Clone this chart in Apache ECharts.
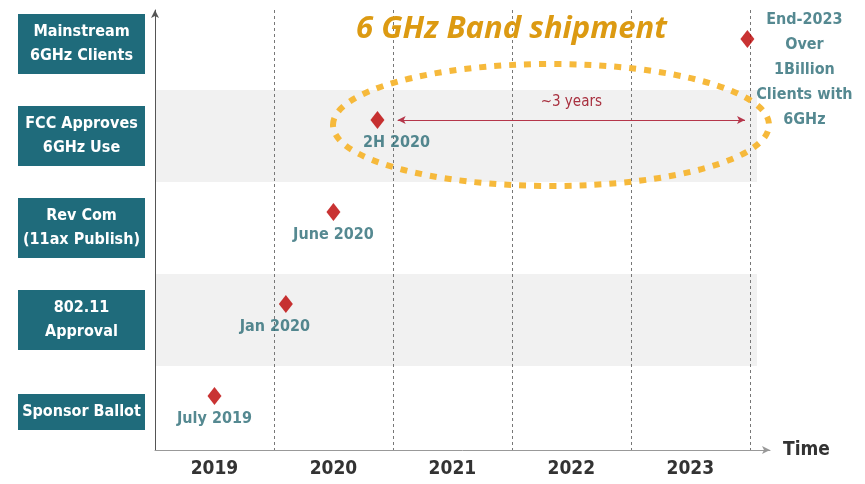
<!DOCTYPE html>
<html>
<head>
<meta charset="utf-8">
<script src="https://cdn.jsdelivr.net/npm/echarts@6/dist/echarts.min.js"></script>
<style>
  html, body { margin: 0; padding: 0; background: #fff; }
  #main { width: 865px; height: 484px; }
</style>
</head>
<body>
<div id="main"></div>
<script>
// milestones, bottom row first
var milestones = ['Sponsor Ballot', '802.11\nApproval', 'Rev Com\n(11ax Publish)', 'FCC Approves\n6GHz Use', 'Mainstream\n6GHz Clients'];
var dates = [2019.5, 2020.1, 2020.5, 2020.87, 2023.98];
var dateLabels = ['July 2019', 'Jan 2020', 'June 2020', '2H 2020', 'End-2023\nOver\n1Billion\nClients with\n6GHz'];
var years = [2019, 2020, 2021, 2022, 2023];
var gapStart = 2021.04;
var gapEnd = 2023.96;
var gapText = '~3 years';

var narrow = '"DejaVu Sans Condensed", "Liberation Sans Narrow", "Liberation Sans", sans-serif';
var xMin = 2019, xMax = 2024.17;

// label placement per milestone
var labelPos = [
    { position: 'bottom', distance: 6 },
    { position: 'bottom', distance: 6, offset: [-11, 0] },
    { position: 'bottom', distance: 6 },
    { position: 'bottom', distance: 6, offset: [19, 0] },
    { position: 'right', align: 'center', offset: [45, 31], lineHeight: 25 }
];

var points = dates.map(function (d, i) {
    var item = { value: [d, milestones[i]], label: labelPos[i] };
    if (i === 4) item.symbolOffset = [0, 11];
    return item;
});

var chart = echarts.init(document.getElementById('main'));
chart.setOption({
    animation: false,
    title: {
        text: '6 GHz Band shipment',
        left: 351,
        top: 9,
        textStyle: { fontFamily: '"Open Sans", sans-serif', fontStyle: 'italic', fontWeight: 'bold', fontSize: 31, color: '#dc9a12' }
    },
    grid: [
        { left: 155, right: 108, top: -2, height: 460, outerBoundsMode: 'none' },   // bands + row labels
        { left: 155, right: 95, top: -18, height: 460, outerBoundsMode: 'none' },   // milestones
        { left: 155, right: 95, top: 10, bottom: 34, outerBoundsMode: 'none' }      // axis lines
    ],
    xAxis: [
        { gridIndex: 0, type: 'value', min: 0, max: 1, show: false },
        { gridIndex: 1, type: 'value', min: xMin, max: xMax, show: false },
        {
            gridIndex: 2, type: 'value', min: xMin, max: xMax, interval: 1, position: 'bottom', z: 3,
            axisLine: { show: true, symbol: ['none', 'arrow'], symbolSize: [6, 8], lineStyle: { color: '#999', width: 1 } },
            axisTick: { show: false },
            axisLabel: { show: false },
            splitLine: { show: true, showMinLine: false, showMaxLine: false, lineStyle: { color: '#777', type: [3, 3], width: 1 } },
            name: 'Time', nameLocation: 'end', nameGap: 13,
            nameTextStyle: { fontFamily: narrow, fontSize: 19, fontWeight: 'bold', color: '#333', verticalAlign: 'middle' }
        },
        {
            gridIndex: 2, type: 'value', min: xMin, max: xMax, interval: 0.5, position: 'bottom',
            axisLine: { show: false }, axisTick: { show: false }, splitLine: { show: false },
            axisLabel: {
                margin: 10, fontFamily: narrow, fontSize: 19, fontWeight: 'bold', color: '#333',
                formatter: function (v) {
                    var y = Math.floor(v);
                    return (Math.abs(v - y - 0.5) < 0.01 && years.indexOf(y) >= 0) ? String(y) : '';
                }
            }
        }
    ],
    yAxis: [
        {
            gridIndex: 0, type: 'category', data: milestones, z: 0,
            axisLine: { show: false }, axisTick: { show: false },
            axisLabel: {
                interval: 0, margin: 73.5, align: 'center', width: 127, padding: [6, 0],
                backgroundColor: '#1f6b7b', color: '#fff', fontFamily: narrow, fontWeight: 'bold',
                fontSize: 16, lineHeight: 24
            },
            splitArea: { show: true, areaStyle: { color: ['#ffffff', '#f1f1f1'] } }
        },
        { gridIndex: 1, type: 'category', data: milestones, show: false },
        {
            gridIndex: 2, type: 'value', min: 0, max: 1, z: 3,
            axisLine: { show: true, symbol: ['none', 'arrow'], symbolSize: [6, 8], lineStyle: { color: '#555', width: 1 } },
            axisTick: { show: false }, axisLabel: { show: false }, splitLine: { show: false }
        }
    ],
    series: [{
        type: 'scatter',
        xAxisIndex: 1,
        yAxisIndex: 1,
        z: 5,
        symbol: 'diamond',
        symbolSize: [14, 18],
        itemStyle: { color: '#bb0000' },
        label: {
            show: true,
            formatter: function (p) { return dateLabels[p.dataIndex]; },
            fontFamily: narrow, fontWeight: 'bold', fontSize: 16, color: '#2a6b75'
        },
        data: points,
        markLine: {
            silent: true,
            symbol: ['arrow', 'arrow'],
            symbolSize: [6, 8],
            lineStyle: { color: '#b5364a', width: 1.2, type: 'solid' },
            label: { show: true, formatter: gapText, position: 'insideMiddleTop', distance: 10, fontFamily: narrow, fontSize: 15, color: '#a8303f' },
            data: [[{ coord: [gapStart, milestones[3]] }, { coord: [gapEnd, milestones[3]] }]]
        }
    }],
    graphic: [{
        type: 'ellipse',
        z: 10,
        shape: { cx: 551, cy: 125, rx: 218, ry: 61 },
        style: { fill: 'none', stroke: '#f6b93b', lineWidth: 6, lineDash: [7, 8] }
    }]
});
</script>
</body>
</html>
